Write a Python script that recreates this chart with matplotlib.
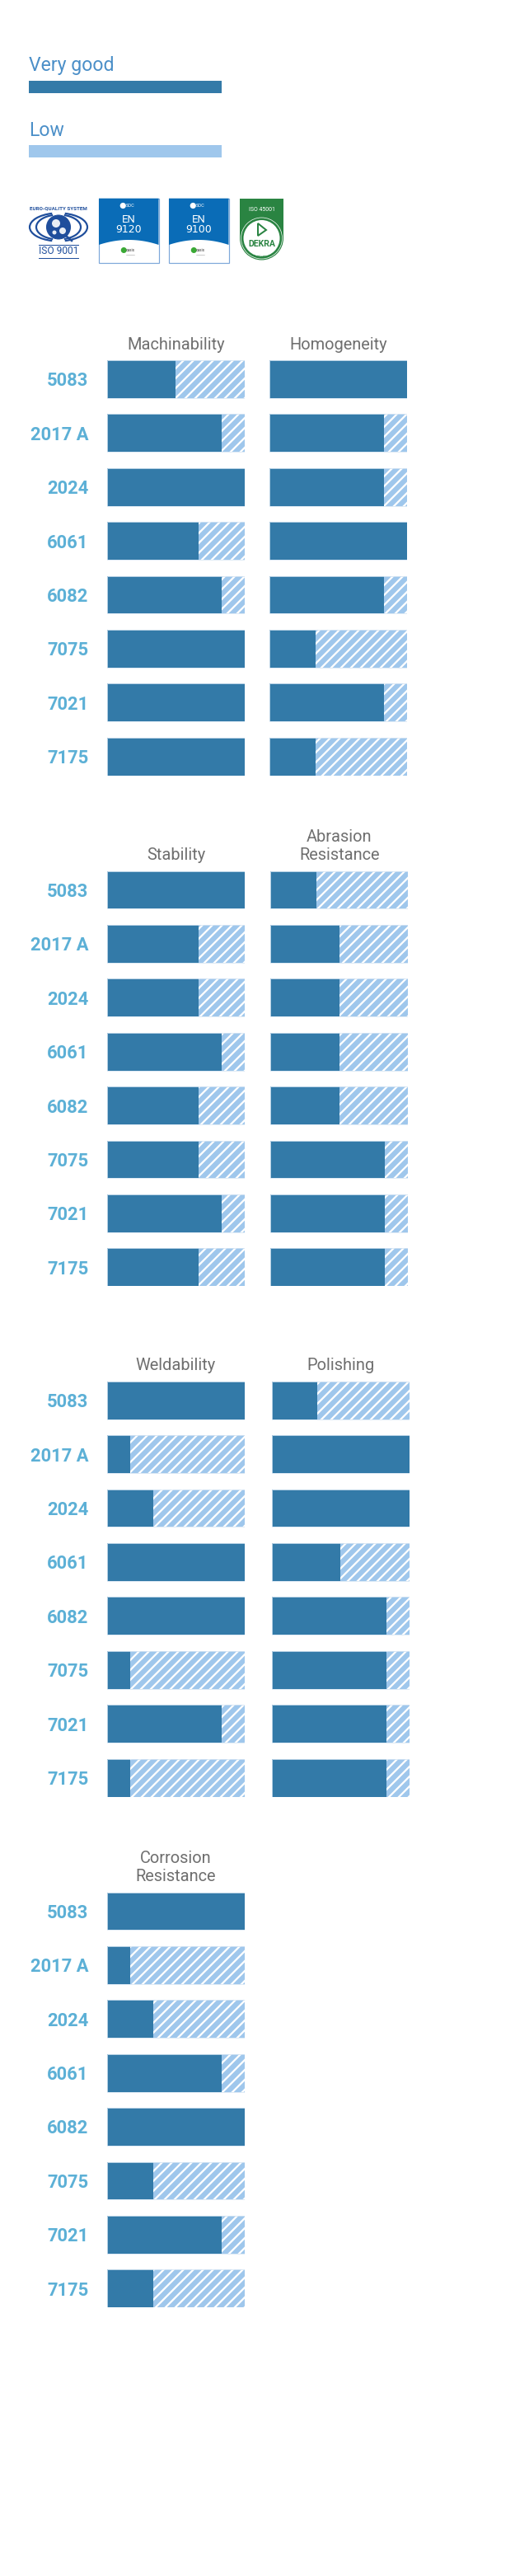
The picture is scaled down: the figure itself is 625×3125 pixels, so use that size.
import numpy as np
import matplotlib
matplotlib.use("Agg")
import matplotlib.pyplot as plt
from matplotlib.patches import Rectangle, Circle, Polygon, Arc

# ---------------- data ----------------
alloys = ['5083', '2017 A', '2024', '6061', '6082', '7075', '7021', '7175']
max_score = 6
machinability = [3, 5, 6, 4, 5, 6, 6, 6]
homogeneity = [6, 5, 5, 6, 5, 2, 5, 2]
stability = [6, 4, 4, 5, 4, 4, 5, 4]
abrasion = [2, 3, 3, 3, 3, 5, 5, 5]
weldability = [6, 1, 2, 6, 6, 1, 5, 1]
polishing = [2, 6, 6, 3, 5, 5, 5, 5]
corrosion = [6, 1, 2, 5, 6, 2, 5, 2]

legend_labels = ['Very good', 'Low']

# ---------------- style ----------------
plt.rcParams['font.family'] = ['Roboto', 'DejaVu Sans']
plt.rcParams['hatch.linewidth'] = 2.3

DARK = '#337aa8'
LIGHT = '#9fc7ec'
LABEL = '#5cb0d6'
TITLE = '#6f6f6f'
LEGEND_TXT = '#4b8fc8'
OUTLINE = '#d6e5f3'

W, H = 625, 3125
fig = plt.figure(figsize=(W / 72, H / 72), dpi=72)
fig.patch.set_facecolor('white')

# overlay axes in pixel coordinates
ov = fig.add_axes([0, 0, 1, 1])
ov.set_xlim(0, W)
ov.set_ylim(H, 0)
ov.axis('off')

# ---------------- legend ----------------
ov.text(35, 86, legend_labels[0], fontsize=23, color=LEGEND_TXT, va='baseline', ha='left')
ov.add_patch(Rectangle((35, 97.7), 234, 15, facecolor=DARK, edgecolor='none'))
ov.text(35, 165, legend_labels[1], fontsize=23, color=LEGEND_TXT, va='baseline', ha='left')
ov.add_patch(Rectangle((35, 176), 234, 15, facecolor=LIGHT, edgecolor='none'))

# ---------------- logos ----------------
QBLUE = '#1f4e9c'
ov.text(71, 253, 'EURO-QUALITY SYSTEM', fontsize=6.2, fontweight='bold', color=QBLUE,
        ha='center', va='center')
for w_, h_ in [(70, 34), (54, 30)]:
    ov.add_patch(Arc((71, 275.5), w_, h_, theta1=115, theta2=245, lw=2.2, color=QBLUE))
    ov.add_patch(Arc((71, 275.5), w_, h_, theta1=-65, theta2=65, lw=2.2, color=QBLUE))
ov.add_patch(Circle((71, 275.5), 14.5, facecolor=QBLUE, edgecolor=QBLUE))
ov.add_patch(Circle((68, 271), 5, facecolor='white', edgecolor='none', alpha=0.9))
ov.add_patch(Circle((76, 280), 4, facecolor='white', edgecolor='none', alpha=0.9))
ov.add_patch(Circle((66, 282), 2.5, facecolor='white', edgecolor='none', alpha=0.9))
ov.plot([80, 87], [286, 292], color=QBLUE, lw=2.5)
ov.text(71, 305, 'ISO 9001', fontsize=12, color=QBLUE, ha='center', va='center')
ov.plot([47, 95], [297, 297], color=QBLUE, lw=1)
ov.plot([47, 95], [312.5, 312.5], color=QBLUE, lw=1)

ENBLUE = '#0a6cb7'
for x0, code in [(120, '9120'), (205, '9100')]:
    wbox = 72.5
    ov.add_patch(Rectangle((x0, 240.7), wbox, 78.6, facecolor='white', edgecolor='#7ea8da', lw=1.2))
    xs = np.linspace(x0, x0 + wbox, 60)
    cx = x0 + wbox / 2
    ys = 291 + 6 * ((xs - cx) / (wbox / 2)) ** 2
    poly = np.vstack([[[x0, 240.7]], np.column_stack([xs, ys]), [[x0 + wbox, 240.7]]])
    ov.add_patch(Polygon(poly, closed=True, facecolor=ENBLUE, edgecolor='none'))
    ov.add_patch(Circle((cx - 7, 249.5), 3.6, facecolor='white', edgecolor='none'))
    ov.text(cx + 2, 249.5, 'SOC', fontsize=5.5, color='white', ha='center', va='center')
    ov.text(cx, 267, 'EN', fontsize=13, color='white', ha='center', va='center')
    ov.text(cx, 279, code, fontsize=12.5, color='white', ha='center', va='center',
            family=['DejaVu Sans'])
    ov.add_patch(Circle((cx - 6, 303.5), 3.5, facecolor='#3aa935', edgecolor='none'))
    ov.text(cx + 2, 303.5, 'oasis', fontsize=4.5, color='#333333', ha='center', va='center')
    ov.plot([cx - 3, cx + 7], [309, 309], color='#999999', lw=0.5)

DGREEN = '#2a8442'
ov.add_patch(Rectangle((291, 240.7), 53, 48, facecolor=DGREEN, edgecolor='none'))
ov.add_patch(Circle((317.5, 289), 26.5, facecolor=DGREEN, edgecolor='none'))
ov.add_patch(Circle((317.5, 289), 25, facecolor='none', edgecolor='white', lw=0.7))
ov.add_patch(Circle((317.5, 289), 22, facecolor='white', edgecolor='none'))
ov.text(317.5, 255, 'ISO 45001', fontsize=7, color='white', ha='center', va='center')
ov.add_patch(Polygon([[313, 271], [323, 279], [313, 286]], closed=True, facecolor='none',
                     edgecolor=DGREEN, lw=2))
ov.text(317.5, 296, 'DEKRA', fontsize=10.5, fontweight='bold', color=DGREEN,
        ha='center', va='center')
ov.text(317.5, 311, 'Certification', fontsize=3.5, color=DGREEN, ha='center', va='center')

# ---------------- panels ----------------
PITCH = 65.4
BAR_H = 45.8
hb = BAR_H / PITCH
rows = np.arange(len(alloys))
panel_h = (len(alloys) - 1) * PITCH + BAR_H

sections = [
    (437.0, [('Machinability', machinability, 130.0, 296.8),
             ('Homogeneity', homogeneity, 327.2, 494.0)]),
    (1056.6, [('Stability', stability, 130.0, 296.8),
              ('Abrasion\nResistance', abrasion, 328.4, 495.2)]),
    (1675.9, [('Weldability', weldability, 130.0, 296.8),
              ('Polishing', polishing, 329.6, 496.8)]),
    (2295.5, [('Corrosion\nResistance', corrosion, 130.0, 296.8)]),
]

for top, panels in sections:
    for j, (title, vals, x0, x1) in enumerate(panels):
        ax = fig.add_axes([x0 / W, 1 - (top + panel_h) / H, (x1 - x0) / W, panel_h / H])
        ax.set_xlim(0, max_score)
        ax.set_ylim(len(alloys) - 1 + hb / 2, -hb / 2)
        ax.barh(rows, [max_score] * len(rows), height=hb, color=LIGHT, hatch='//',
                edgecolor='white', linewidth=0)
        ax.barh(rows, vals, height=hb, color=DARK, linewidth=0)
        ax.barh(rows, [max_score] * len(rows), height=hb, fill=False,
                edgecolor=OUTLINE, linewidth=0.8)
        for s in ax.spines.values():
            s.set_visible(False)
        ax.set_xticks([])
        ax.patch.set_alpha(0)
        if j == 0:
            ax.set_yticks(rows)
            ax.set_yticklabels(alloys, fontsize=22, fontweight='bold', color=LABEL)
            ax.tick_params(axis='y', length=0, pad=22.7)
        else:
            ax.set_yticks([])
        # title lines, last line baseline 13.4 px above the panel top
        lines = title.split('\n')
        xc = (x0 + x1) / 2
        for k, line in enumerate(reversed(lines)):
            ov.text(xc, top - 13.4 - k * 21.8, line, fontsize=20, color=TITLE,
                    ha='center', va='baseline')

fig.savefig('out.png', dpi=72, facecolor='white')
